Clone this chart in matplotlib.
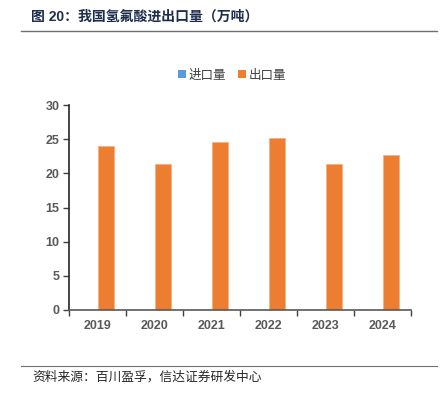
import matplotlib
matplotlib.use("Agg")
import matplotlib.pyplot as plt
import numpy as np
from matplotlib.lines import Line2D
from matplotlib.patches import Patch

years = ["2019", "2020", "2021", "2022", "2023", "2024"]
import_vol = [0.0, 0.0, 0.0, 0.0, 0.0, 0.0]
export_vol = [24.05, 21.4, 24.6, 25.2, 21.4, 22.75]
series_names = ["进口量", "出口量"]
yticks = [0, 5, 10, 15, 20, 25, 30]

fam = ["Liberation Sans", "Noto Sans CJK SC", "DejaVu Sans"]
plt.rcParams["font.family"] = fam

W, H = 448, 398
fig = plt.figure(figsize=(W / 100, H / 100), dpi=100)
ax = fig.add_axes([69 / W, 1 - 310 / H, (411 - 69) / W, (310 - 105) / H])

x = np.arange(len(years))
bw = 0.286
c_imp = "#5b9bd5"
c_exp = "#ed7d31"
ax.bar(x - bw / 2, import_vol, width=bw, color=c_imp)
ax.bar(x + bw / 2, export_vol, width=bw, color=c_exp, edgecolor="#f4b183", linewidth=0.6)

ax.set_xlim(-0.5, len(years) - 0.5)
ax.set_ylim(0, 30)
ax.set_yticks(yticks)
ax.set_yticklabels([str(v) for v in yticks])
ax.set_xticks(x)
ax.set_xticklabels(years)
ax.set_xticks(np.arange(-0.5, len(years), 1), minor=True)
ax.tick_params(axis="x", which="major", length=0, pad=7)
ax.tick_params(axis="x", which="minor", length=4, width=1, color="#404040", direction="out")
ax.tick_params(axis="y", length=4, width=1, color="#404040", direction="out", pad=3)
for lab in ax.get_xticklabels() + ax.get_yticklabels():
    lab.set_color("#595959")
    lab.set_fontweight("bold")
    lab.set_fontsize(9)
    lab.set_family(fam)

for s in ["top", "right"]:
    ax.spines[s].set_visible(False)
ax.spines["left"].set_color("#262626")
ax.spines["left"].set_linewidth(1.2)
ax.spines["bottom"].set_color("#595959")
ax.spines["bottom"].set_linewidth(1.2)

# legend
handles = [Patch(facecolor=c_imp, edgecolor="none"), Patch(facecolor=c_exp, edgecolor="none")]
fig.legend(handles, series_names, loc="center", bbox_to_anchor=(232 / W, 1 - 75 / H),
           ncol=2, frameon=False, handlelength=0.6, handleheight=0.6, handletextpad=0.2,
           columnspacing=1.0, prop={"family": ["Noto Sans CJK SC"], "size": 9})
for t in fig.legends[0].get_texts():
    t.set_color("#404040")

# title
fig.text(31 / W, 1 - 17 / H, "图 20：我国氢氟酸进出口量（万吨）", ha="left", va="center",
         fontsize=10, fontweight="bold", color="#1f2d4d", family=fam)
fig.add_artist(Line2D([21 / W, 437 / W], [1 - 31 / H, 1 - 31 / H], color="#707070", linewidth=1.0))

# source
fig.add_artist(Line2D([21 / W, 437 / W], [1 - 366 / H, 1 - 366 / H], color="#707070", linewidth=0.8))
fig.text(32 / W, 1 - 377 / H, "资料来源：百川盈孚，信达证券研发中心", ha="left", va="center",
         fontsize=9.2, fontstyle="italic", color="#262626", family=["Noto Sans CJK SC"])

fig.savefig("out.png", dpi=100)
